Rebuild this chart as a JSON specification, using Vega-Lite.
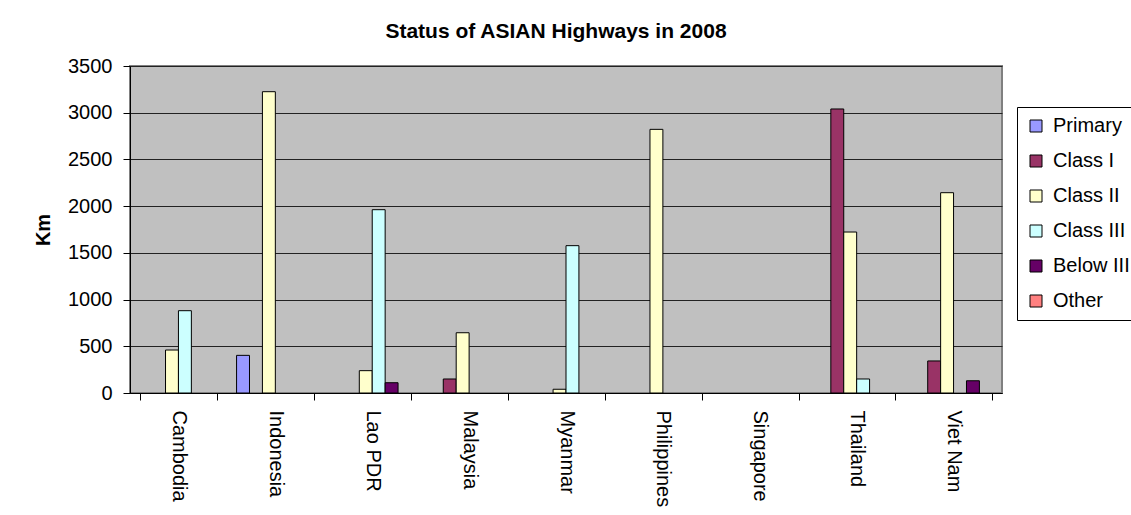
{
  "$schema": "https://vega.github.io/schema/vega-lite/v6.json",
  "autosize": "none",
  "padding": {"left": 130, "top": 66, "right": 129, "bottom": 122},
  "width": 872,
  "height": 327,
  "background": "white",
  "title": {
    "text": "Status of ASIAN Highways in 2008",
    "font": "Liberation Sans",
    "fontSize": 21,
    "fontWeight": "bold",
    "color": "black",
    "anchor": "middle",
    "offset": 14,
    "dx": -10
  },
  "data": {
    "values": [
      {"country": "Cambodia", "class": "Class II", "km": 460},
      {"country": "Cambodia", "class": "Class III", "km": 881},
      {"country": "Indonesia", "class": "Primary", "km": 403},
      {"country": "Indonesia", "class": "Class II", "km": 3225},
      {"country": "Lao PDR", "class": "Class II", "km": 239},
      {"country": "Lao PDR", "class": "Class III", "km": 1962},
      {"country": "Lao PDR", "class": "Below III", "km": 110},
      {"country": "Malaysia", "class": "Class I", "km": 150},
      {"country": "Malaysia", "class": "Class II", "km": 645},
      {"country": "Myanmar", "class": "Class II", "km": 40},
      {"country": "Myanmar", "class": "Class III", "km": 1577},
      {"country": "Philippines", "class": "Class II", "km": 2822},
      {"country": "Thailand", "class": "Class I", "km": 3040},
      {"country": "Thailand", "class": "Class II", "km": 1723},
      {"country": "Thailand", "class": "Class III", "km": 150},
      {"country": "Viet Nam", "class": "Class I", "km": 343},
      {"country": "Viet Nam", "class": "Class II", "km": 2144},
      {"country": "Viet Nam", "class": "Below III", "km": 131}
    ]
  },
  "mark": {"type": "bar", "stroke": "black", "strokeWidth": 1},
  "encoding": {
    "x": {
      "field": "country",
      "type": "nominal",
      "sort": null,
      "scale": {
        "domain": ["Cambodia", "Indonesia", "Lao PDR", "Malaysia", "Myanmar", "Philippines", "Singapore", "Thailand", "Viet Nam"],
        "paddingInner": 0.2,
        "paddingOuter": 0.1
      },
      "axis": {
        "title": null,
        "labelAngle": 90,
        "labelAlign": "left",
        "labelBaseline": "middle",
        "labelFont": "Liberation Sans",
        "labelFontSize": 20,
        "labelColor": "black",
        "labelPadding": 10,
        "tickBand": "extent",
        "tickSize": 7,
        "tickColor": "black",
        "domainColor": "black",
        "grid": false
      }
    },
    "xOffset": {
      "field": "class",
      "type": "nominal",
      "scale": {
        "domain": ["Primary", "Class I", "Class II", "Class III", "Below III", "Other"],
        "paddingInner": 0,
        "paddingOuter": 0
      }
    },
    "y": {
      "field": "km",
      "type": "quantitative",
      "scale": {"domain": [0, 3500], "nice": false},
      "axis": {
        "title": "Km",
        "titleFont": "Liberation Sans",
        "titleFontSize": 20,
        "titleFontWeight": "bold",
        "titleColor": "black",
        "titlePadding": 14,
        "values": [0, 500, 1000, 1500, 2000, 2500, 3000, 3500],
        "format": "d",
        "labelFont": "Liberation Sans",
        "labelFontSize": 20,
        "labelColor": "black",
        "labelPadding": 11,
        "tickSize": 7,
        "tickColor": "black",
        "domainColor": "black",
        "grid": true,
        "gridColor": "#222222",
        "gridWidth": 1
      }
    },
    "color": {
      "field": "class",
      "type": "nominal",
      "scale": {
        "domain": ["Primary", "Class I", "Class II", "Class III", "Below III", "Other"],
        "range": ["#9999FF", "#993366", "#FFFFCC", "#CCFFFF", "#660066", "#FF8080"]
      },
      "legend": {
        "title": null,
        "orient": "none",
        "legendX": 887,
        "legendY": 41,
        "symbolType": "square",
        "symbolSize": 144,
        "symbolStrokeColor": "black",
        "symbolStrokeWidth": 1,
        "symbolOpacity": 1,
        "labelFont": "Liberation Sans",
        "labelFontSize": 20,
        "labelColor": "black",
        "labelOffset": 7,
        "rowPadding": 15,
        "padding": 9,
        "strokeColor": "black",
        "fillColor": "white"
      }
    }
  },
  "config": {
    "view": {"fill": "#C0C0C0", "stroke": "#808080", "strokeWidth": 2}
  }
}
